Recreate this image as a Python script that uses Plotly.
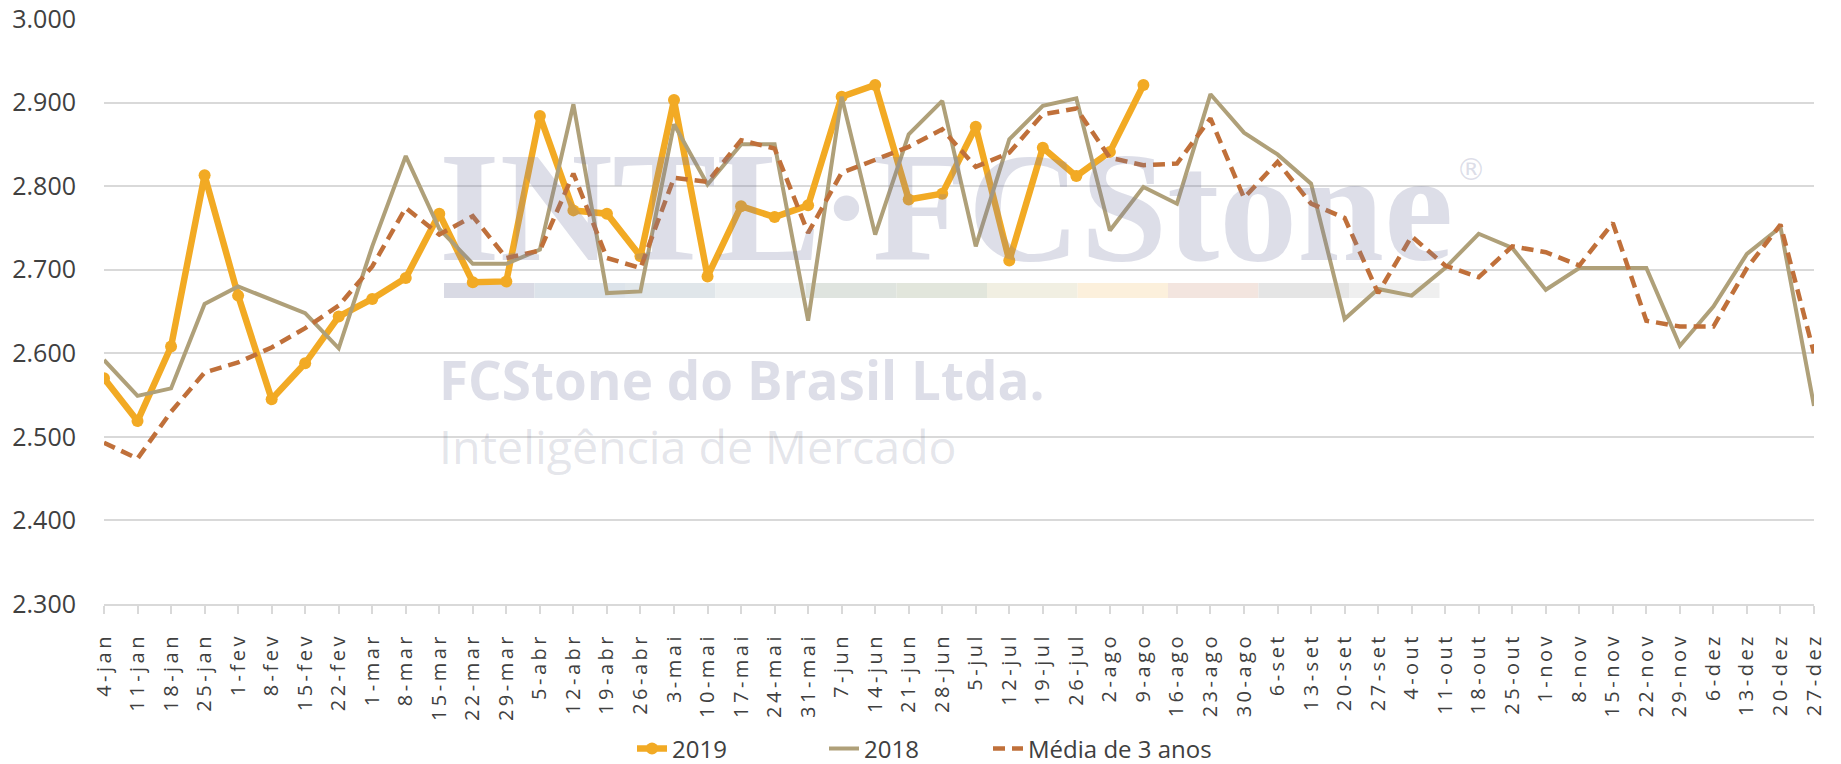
import plotly.graph_objects as go

categories = ["4-jan","11-jan","18-jan","25-jan","1-fev","8-fev","15-fev","22-fev","1-mar","8-mar",
              "15-mar","22-mar","29-mar","5-abr","12-abr","19-abr","26-abr","3-mai","10-mai","17-mai",
              "24-mai","31-mai","7-jun","14-jun","21-jun","28-jun","5-jul","12-jul","19-jul","26-jul",
              "2-ago","9-ago","16-ago","23-ago","30-ago","6-set","13-set","20-set","27-set","4-out",
              "11-out","18-out","25-out","1-nov","8-nov","15-nov","22-nov","29-nov","6-dez","13-dez",
              "20-dez","27-dez"]

values_2019 = [2570, 2519, 2608, 2813, 2669, 2545, 2588, 2644, 2665, 2690,
               2767, 2685, 2686, 2884, 2771, 2767, 2716, 2903, 2692, 2776,
               2763, 2777, 2907, 2921, 2784, 2791, 2871, 2711, 2846, 2812,
               2841, 2921]

values_2018 = [2592, 2549, 2558, 2659, 2680, 2664, 2648, 2606, 2728, 2836,
               2749, 2707, 2707, 2724, 2898, 2672, 2674, 2874, 2802, 2850,
               2850, 2639, 2907, 2742, 2862, 2902, 2728, 2856, 2896, 2905,
               2747, 2799, 2779, 2910, 2864, 2838, 2803, 2641, 2677, 2669,
               2702, 2743, 2726, 2676, 2702, 2702, 2702, 2609, 2656, 2719,
               2751, 2537]

values_media = [2493, 2474, 2530, 2577, 2589, 2607, 2630, 2657, 2704, 2774,
                2742, 2764, 2714, 2723, 2815, 2714, 2702, 2810, 2805, 2855,
                2845, 2744, 2816, 2831, 2847, 2868, 2823, 2840, 2886, 2893,
                2834, 2825, 2827, 2881, 2786, 2829, 2779, 2762, 2672, 2740,
                2705, 2691, 2728, 2721, 2705, 2756, 2639, 2632, 2632, 2702,
                2754, 2600]

y_ticks = [2300, 2400, 2500, 2600, 2700, 2800, 2900, 3000]

C2019 = "#F2AA24"
C2018 = "#AFA079"
CMED = "#C0703A"
TXT = "#404040"
GRID = "#D9D9D9"
W, H = 1841, 764

fig = go.Figure()
fig.add_trace(go.Scatter(x=categories[:len(values_2019)], y=values_2019, name="2019",
                         mode="lines+markers", line=dict(color=C2019, width=6.5),
                         marker=dict(size=12, color=C2019), legend="legend"))
fig.add_trace(go.Scatter(x=categories, y=values_2018, name="2018", mode="lines",
                         line=dict(color=C2018, width=4), legend="legend2"))
fig.add_trace(go.Scatter(x=categories, y=values_media, name="Média de 3 anos", mode="lines",
                         line=dict(color=CMED, width=4.5, dash="12px,7px"), legend="legend3"))

# watermark (decorative, paper coordinates)
wm_colors = ["#D9DAE4", "#DCE3EA", "#E0E6EA", "#ECEFF0", "#DFE4DF", "#E2E6DC",
             "#F1EFE2", "#FCF0DC", "#F3E5DF", "#E5E5E5", "#EFEFEF"]
x0p, x1p = 104, 1814
y0p, y1p = 19, 604
def px(x):
    return (x - x0p) / (x1p - x0p)
def py(y):
    return (y1p - y) / (y1p - y0p)
shapes = []
for k, c in enumerate(wm_colors):
    shapes.append(dict(type="rect", xref="paper", yref="paper", layer="below",
                       x0=px(444 + 90.5 * k), x1=px(444 + 90.5 * (k + 1)),
                       y0=py(298), y1=py(283), fillcolor=c, line=dict(width=0)))

WM = "rgba(120,124,165,0.25)"
annotations = [
    dict(text="<b>INTL·FCStone</b>", x=px(437), y=py(208), xref="paper", yref="paper",
         xanchor="left", yanchor="middle", showarrow=False,
         font=dict(family="Liberation Serif", size=156, color=WM)),
    dict(text="®", x=px(1454), y=py(170), xref="paper", yref="paper",
         xanchor="left", yanchor="middle", showarrow=False,
         font=dict(family="DejaVu Sans", size=30, color=WM)),
    dict(text="<b>FCStone do Brasil Ltda.</b>", x=px(438), y=py(379), xref="paper", yref="paper",
         xanchor="left", yanchor="middle", showarrow=False, borderpad=0,
         font=dict(family="Open Sans", size=53, color=WM)),
    dict(text="Inteligência de Mercado", x=px(438), y=py(446), xref="paper", yref="paper",
         xanchor="left", yanchor="middle", showarrow=False, borderpad=0,
         font=dict(family="Open Sans", size=46.5, color="rgba(120,124,150,0.20)")),
]

def leg(xpix):
    return dict(orientation="h", x=xpix / W, xanchor="left", xref="container",
                y=(H - 749) / H, yanchor="middle", yref="container",
                font=dict(size=24, color=TXT), bgcolor="rgba(0,0,0,0)")

fig.update_layout(
    width=W, height=H,
    margin=dict(l=x0p, r=W - x1p, t=y0p, b=H - y1p, pad=0),
    paper_bgcolor="white", plot_bgcolor="white",
    separators=",.",
    font=dict(family="Open Sans", color=TXT),
    shapes=shapes, annotations=annotations,
    showlegend=True,
    legend=leg(632), legend2=leg(824), legend3=leg(988),
    xaxis=dict(type="category", categoryorder="array", categoryarray=categories,
               range=[0, len(categories) - 1], showgrid=False, automargin=False,
               showline=True, linecolor=GRID, linewidth=2,
               ticks="outside", ticklen=8, tickwidth=1.5, tickcolor=GRID,
               tickangle=-90, tickfont=dict(size=20, color=TXT),
               ticklabelstandoff=11),
    yaxis=dict(range=[2300, 3000], tickvals=y_ticks, tickformat=",d", automargin=False,
               showgrid=True, gridcolor=GRID, gridwidth=1.7, zeroline=False,
               showline=False, ticks="", tickfont=dict(size=25, color=TXT),
               ticklabelstandoff=27),
)

post = ("document.body.style.margin='0';"
        "document.querySelectorAll('.xtick text').forEach(function(t){t.style.letterSpacing='3.5px';});")
fig.write_html("out.html", post_script=post, config={"displayModeBar": False})
